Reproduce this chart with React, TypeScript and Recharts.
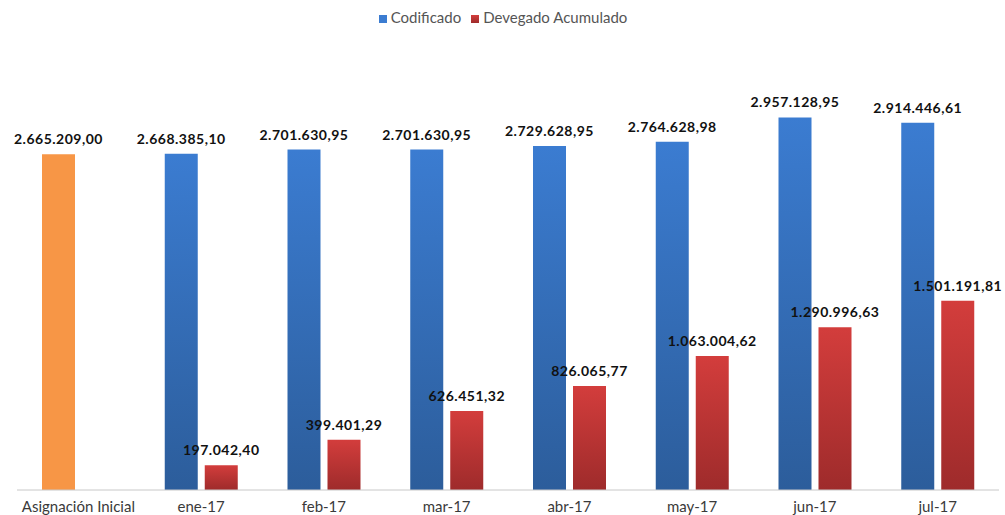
import React from "react";
import { BarChart, Bar, XAxis, YAxis, Legend, Cell, LabelList } from "recharts";

const categories = ["Asignación Inicial", "ene-17", "feb-17", "mar-17", "abr-17", "may-17", "jun-17", "jul-17"];
const codificado = [2665209.0, 2668385.1, 2701630.95, 2701630.95, 2729628.95, 2764628.98, 2957128.95, 2914446.61];
const devengado: (number | null)[] = [null, 197042.4, 399401.29, 626451.32, 826065.77, 1063004.62, 1290996.63, 1501191.81];

const chartData = categories.map((name, i) => ({
  name,
  codificado: codificado[i],
  devengado: devengado[i],
}));

// formato es: 2.665.209,00
const fmt = (v: any) => {
  if (v == null) return "";
  const [ent, dec] = Number(v).toFixed(2).split(".");
  return ent.replace(/\B(?=(\d{3})+(?!\d))/g, ".") + "," + dec;
};

const labelStyle = { fontFamily: "Lato", fontWeight: 700, fontSize: 14, letterSpacing: 0.5, fill: "#111" };

export default function App() {
  return (
    <div style={{ position: "absolute", left: 0, top: 0, background: "#fff" }}>
      <BarChart
        width={1005}
        height={515}
        data={chartData}
        margin={{ top: 94, right: 6, left: 17, bottom: 0 }}
        barSize={33}
        barGap={7}
      >
        <defs>
          <linearGradient id="gBlue" x1="0" y1="0" x2="0" y2="1">
            <stop offset="0%" stopColor="#3b7cd1" />
            <stop offset="100%" stopColor="#2c5d9b" />
          </linearGradient>
          <linearGradient id="gRed" x1="0" y1="0" x2="0" y2="1">
            <stop offset="0%" stopColor="#d33d3c" />
            <stop offset="100%" stopColor="#9e2b2b" />
          </linearGradient>
        </defs>
        <XAxis
          dataKey="name"
          height={25}
          tickLine={false}
          axisLine={{ stroke: "#c8c8c8" }}
          tick={{ fontFamily: "Lato", fontSize: 15, fill: "#3a3a3a", dy: 3 }}
          interval={0}
        />
        <YAxis hide domain={[0, 3000000]} />
        <Legend
          verticalAlign="top"
          align="center"
          iconType="square"
          iconSize={8}
          wrapperStyle={{ top: 8, fontFamily: "Lato", fontSize: 15, color: "#555" }}
          formatter={(value) => <span style={{ color: "#555" }}>{value}</span>}
        />
        <Bar dataKey="codificado" name="Codificado" fill="#3b7cd1" isAnimationActive={false}>
          {chartData.map((d, i) => (
            <Cell key={d.name} fill={i === 0 ? "#f79646" : "url(#gBlue)"} />
          ))}
          <LabelList dataKey="codificado" position="top" offset={10} formatter={fmt} style={labelStyle} />
        </Bar>
        <Bar dataKey="devengado" name="Devegado Acumulado" fill="url(#gRed)" isAnimationActive={false}>
          <LabelList dataKey="devengado" position="top" offset={10} formatter={fmt} style={labelStyle} />
        </Bar>
      </BarChart>
    </div>
  );
}
